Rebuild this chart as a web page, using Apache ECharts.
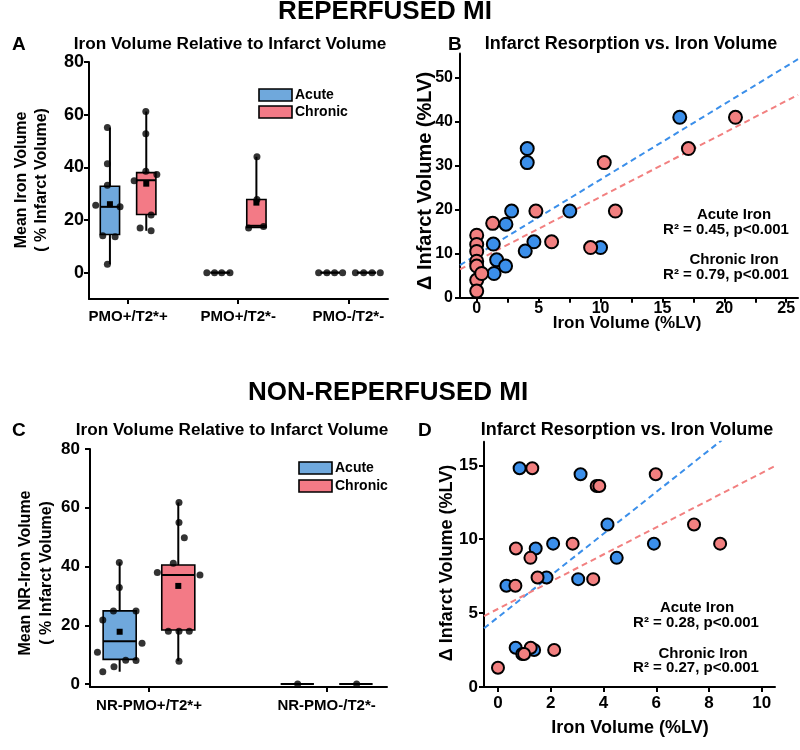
<!DOCTYPE html>
<html>
<head>
<meta charset="utf-8">
<script src="https://cdn.jsdelivr.net/npm/echarts@6/dist/echarts.min.js"></script>
<style>html,body{margin:0;padding:0;background:#fff}#c{width:800px;height:750px}</style>
</head>
<body>
<div id="c"></div>
<script>
// ---------- DATA ----------
const catsA = ['PMO+/T2*+', 'PMO+/T2*-', 'PMO-/T2*-'];
const catsC = ['NR-PMO+/T2*+', 'NR-PMO-/T2*-'];
// box stats: [min, q1, median, q3, max, mean]
const boxAcuteA   = [[3.2, 14.5, 25, 32.8, 55.1, 26], [0, 0, 0, 0, 0, null], [0, 0, 0, 0, 0, null]];
const boxChronicA = [[15.9, 22.1, 35.1, 38, 61.2, 33.8], [17, 17.2, 17.8, 27.8, 44, 26.6], [0, 0, 0, 0, 0, null]];
const boxAcuteC   = [[4.2, 8.4, 14.6, 24.9, 41.4, 17.8], [0, 0, 0, 0, 0, null]];
const boxChronicC = [[7.8, 18.4, 37.1, 40.5, 61.8, 33.4], [0, 0, 0, 0, 0, null]];
// individual dots: [x on category scale, value]
const dotsA = [
  [0.812, 55.1], [0.812, 41.4], [0.812, 33.2], [0.706, 25.6], [0.927, 25.0], [0.77, 14.0], [0.882, 13.6], [0.812, 3.2],
  [1.161, 61.2], [1.161, 52.8], [1.161, 38.5], [1.055, 34.9], [1.261, 37.3], [1.109, 17.0], [1.209, 21.9], [1.209, 15.9],
  [1.715, 0], [1.785, 0], [1.85, 0], [1.925, 0],
  [2.17, 44], [2.17, 27.8], [2.094, 17], [2.23, 17.5],
  [2.73, 0], [2.805, 0], [2.875, 0], [2.948, 0],
  [3.064, 0], [3.139, 0], [3.215, 0], [3.29, 0]
];
const dotsC = [
  [0.833, 41.4], [0.833, 32.9], [0.8, 24.9], [0.927, 24.9], [0.74, 21.8], [0.961, 13.9], [0.71, 10.8], [0.869, 8.1], [0.927, 8.0], [0.803, 5.9], [0.74, 4.2],
  [1.169, 61.8], [1.169, 55], [1.199, 49.8], [1.137, 41.1], [1.047, 38], [1.287, 37.1], [1.109, 18], [1.169, 18], [1.227, 18], [1.169, 7.8],
  [1.837, 0], [2.169, 0]
];
const acuteB = [[16.4, 41], [4.08, 33.9], [4.08, 30.7], [2.82, 19.7], [7.52, 19.7], [2.36, 16.7], [1.34, 12.2], [4.62, 12.7], [3.92, 10.6], [10, 11.4], [1.61, 8.6], [2.33, 7.2], [1.4, 5.5]];
const chronicB = [[20.9, 41], [17.1, 33.9], [10.3, 30.7], [4.78, 19.7], [11.2, 19.7], [1.29, 16.9], [6.05, 12.7], [9.2, 11.4], [0, 14.2], [0, 12.1], [0, 10.5], [0, 8.3], [0, 7.2], [0, 4], [0, 1.5], [0.4, 5.5]];
const fitAcuteB = [[-1.35, 7.4], [25.95, 54.2]];
const fitChronicB = [[-1.35, 6.45], [25.95, 46.1]];
const acuteD = [[0.82, 14.8], [3.13, 14.4], [4.15, 11.0], [2.09, 9.7], [1.43, 9.37], [5.91, 9.7], [4.5, 8.74], [1.84, 7.41], [3.04, 7.3], [0.32, 6.85], [0.67, 2.66], [0.92, 2.23], [1.37, 2.5]];
const chronicD = [[1.3, 14.8], [5.98, 14.4], [3.74, 13.6], [3.84, 13.6], [7.43, 11.0], [8.42, 9.7], [2.83, 9.7], [0.68, 9.37], [1.23, 8.74], [1.5, 7.41], [3.61, 7.3], [0.66, 6.85], [1.24, 2.66], [0.99, 2.23], [2.13, 2.5], [0, 1.3]];
const fitAcuteD = [[-0.53, 3.97], [8.48, 16.7]];
const fitChronicD = [[-0.53, 4.8], [10.5, 14.95]];
const yTicksA = [0, 20, 40, 60, 80];
const yTicksB = [0, 10, 20, 30, 40, 50];
const xTicksB = [0, 5, 10, 15, 20, 25];
const xMinorB = [0, 2.5, 5, 7.5, 10, 12.5, 15, 17.5, 20, 22.5, 25];
const yTicksD = [0, 5, 10, 15];
const xTicksD = [0, 2, 4, 6, 8, 10];

// ---------- STYLE ----------
const FONT = '"Liberation Sans", Arial, sans-serif';
const C_BOX_A = '#6fa8dc', C_BOX_C = '#f37a86';
const C_PT_A = '#3b8fea', C_PT_C = '#f28080';
const OFF = 0.165;

function boxData(stats, offset) {
  return stats.map((s, i) => [i + 1 + offset].concat(s));
}
function boxSeries(stats, offset, color, gi, bw) {
  return {
    type: 'custom', xAxisIndex: gi, yAxisIndex: gi, z: 2,
    data: boxData(stats, offset),
    encode: { x: 0, y: [1, 2, 3, 4, 5] },
    renderItem: function (params, api) {
      const x = api.value(0);
      const p = (v) => api.coord([x, v]);
      const xc = p(api.value(3))[0];
      const yMin = p(api.value(1))[1], yQ1 = p(api.value(2))[1], yMed = p(api.value(3))[1];
      const yQ3 = p(api.value(4))[1], yMax = p(api.value(5))[1];
      const w = api.size([bw, 0])[0];
      const ls = { stroke: '#000', lineWidth: 2 };
      const ch = [
        { type: 'line', shape: { x1: xc, y1: yQ3, x2: xc, y2: yMax }, style: ls },
        { type: 'line', shape: { x1: xc, y1: yQ1, x2: xc, y2: yMin }, style: ls },
        { type: 'rect', shape: { x: xc - w / 2, y: yQ3, width: w, height: yQ1 - yQ3 }, style: { fill: color, stroke: '#000', lineWidth: 1.6 } },
        { type: 'line', shape: { x1: xc - w / 2, y1: yMed, x2: xc + w / 2, y2: yMed }, style: ls }
      ];
      const m = api.value(6);
      if (!isNaN(m) && m !== null) {
        const ym = p(m)[1];
        ch.push({ type: 'rect', shape: { x: xc - 3, y: ym - 3, width: 6, height: 6 }, style: { fill: '#000' } });
      }
      return { type: 'group', children: ch };
    }
  };
}
function dotSeries(d, gi) {
  return { type: 'scatter', xAxisIndex: gi, yAxisIndex: gi, z: 3, data: d, symbol: 'circle', symbolSize: 7, itemStyle: { color: '#000' } };
}
function ptSeries(d, color, gi, size) {
  return { type: 'scatter', xAxisIndex: gi, yAxisIndex: gi, z: 4, data: d, symbol: 'circle', symbolSize: size,
    itemStyle: { color: color, borderColor: '#000', borderWidth: 2, opacity: 1 } };
}
function fitSeries(d, color, gi) {
  return { type: 'line', xAxisIndex: gi, yAxisIndex: gi, z: 3, data: d, symbol: 'none',
    lineStyle: { color: color, width: 2, type: [6, 4] } };
}
const axLine = { show: true, onZero: false, lineStyle: { color: '#000', width: 2 } };
function xAx(gi, min, max, ticks, tickVals, fmt, fs, margin) {
  return { gridIndex: gi, type: 'value', min: min, max: max,
    axisLine: axLine,
    axisTick: { show: true, customValues: tickVals, length: 5, lineStyle: { color: '#000', width: 2 } },
    axisLabel: { customValues: ticks, formatter: fmt, color: '#000', fontFamily: FONT, fontWeight: 'bold', fontSize: fs, margin: margin },
    splitLine: { show: false } };
}
function yAx(gi, min, max, ticks, fs, margin) {
  return { gridIndex: gi, type: 'value', min: min, max: max,
    axisLine: axLine,
    axisTick: { show: true, customValues: ticks, length: 5, lineStyle: { color: '#000', width: 2 } },
    axisLabel: { customValues: ticks, color: '#000', fontFamily: FONT, fontWeight: 'bold', fontSize: fs, margin: margin },
    splitLine: { show: false } };
}
function txt(x, y, s, size, align, rot) {
  return { type: 'text', x: x, y: y, rotation: rot || 0,
    style: { text: s, font: 'bold ' + size + 'px ' + FONT, fill: '#000', align: align || 'center', verticalAlign: 'middle' } };
}
function legendBox(x, y, color) {
  return { type: 'rect', shape: { x: x, y: y, width: 33, height: 12 }, style: { fill: color, stroke: '#000', lineWidth: 1.6 } };
}

const chart = echarts.init(document.getElementById('c'), null, { renderer: 'canvas' });
chart.setOption({
  animation: false,
  backgroundColor: '#fff',
  grid: [
    { left: 89, top: 62, width: 299, height: 237 },
    { left: 460, top: 53.5, width: 338, height: 244.2 },
    { left: 90, top: 449, width: 297, height: 238 },
    { left: 484, top: 441.7, width: 291, height: 245.3 }
  ],
  xAxis: [
    xAx(0, 0.645, 3.36, [1, 2, 3], [1, 2, 3], v => catsA[Math.round(v) - 1], 15, 10),
    xAx(1, -1.35, 25.95, xTicksB, xMinorB, v => String(v), 16, 3),
    xAx(2, 0.668, 2.34, [1, 2], [1, 2], v => catsC[Math.round(v) - 1], 15, 11),
    xAx(3, -0.53, 10.5, xTicksD, xTicksD, v => String(v), 17, 8)
  ],
  yAxis: [
    yAx(0, -10, 80, yTicksA, 18, 5),
    yAx(1, 0, 55.5, yTicksB, 16, 7),
    yAx(2, -1, 80, yTicksA, 17, 10),
    yAx(3, 0, 16.6, yTicksD, 17, 6)
  ],
  series: [
    boxSeries(boxAcuteA, -OFF, C_BOX_A, 0, 0.175),
    boxSeries(boxChronicA, OFF, C_BOX_C, 0, 0.175),
    dotSeries(dotsA, 0),
    fitSeries(fitAcuteB, C_PT_A, 1),
    fitSeries(fitChronicB, C_PT_C, 1),
    ptSeries(acuteB, C_PT_A, 1, 13),
    ptSeries(chronicB, C_PT_C, 1, 13),
    boxSeries(boxAcuteC, -OFF, C_BOX_A, 2, 0.186),
    boxSeries(boxChronicC, OFF, C_BOX_C, 2, 0.186),
    dotSeries(dotsC, 2),
    fitSeries(fitAcuteD, C_PT_A, 3),
    fitSeries(fitChronicD, C_PT_C, 3),
    ptSeries(acuteD, C_PT_A, 3, 12),
    ptSeries(chronicD, C_PT_C, 3, 12)
  ],
  graphic: [
    txt(385, 12, 'REPERFUSED MI', 26),
    txt(388, 393, 'NON-REPERFUSED MI', 26),
    txt(12, 45, 'A', 19, 'left'),
    txt(448, 45, 'B', 19, 'left'),
    txt(12, 431, 'C', 19, 'left'),
    txt(418, 431, 'D', 19, 'left'),
    txt(230, 44, 'Iron Volume Relative to Infarct Volume', 17.2),
    txt(631, 44, 'Infarct Resorption vs. Iron Volume', 18),
    txt(232, 430, 'Iron Volume Relative to Infarct Volume', 17.2),
    txt(627, 430, 'Infarct Resorption vs. Iron Volume', 18),
    txt(22, 180, 'Mean Iron Volume', 16, 'center', Math.PI / 2),
    txt(42, 180, '( % Infarct Volume)', 16, 'center', Math.PI / 2),
    txt(425, 181, 'Δ Infarct Volume (%LV)', 20, 'center', Math.PI / 2),
    txt(627, 323, 'Iron Volume (%LV)', 17),
    txt(26, 573, 'Mean NR-Iron Volume', 16, 'center', Math.PI / 2),
    txt(47, 573, '( % Infarct Volume)', 16, 'center', Math.PI / 2),
    txt(447, 563, 'Δ Infarct Volume (%LV)', 18, 'center', Math.PI / 2),
    txt(630, 728, 'Iron Volume (%LV)', 18),
    legendBox(259, 89, C_BOX_A), legendBox(259, 106, C_BOX_C),
    txt(295, 95, 'Acute', 14, 'left'), txt(295, 112, 'Chronic', 14, 'left'),
    legendBox(299, 462, C_BOX_A), legendBox(299, 480, C_BOX_C),
    txt(335, 468, 'Acute', 14, 'left'), txt(335, 486, 'Chronic', 14, 'left'),
    txt(734, 215, 'Acute Iron', 15), txt(726, 230, 'R² = 0.45, p<0.001', 15),
    txt(734, 260, 'Chronic Iron', 15), txt(726, 275, 'R² = 0.79, p<0.001', 15),
    txt(697, 608, 'Acute Iron', 15), txt(696, 623, 'R² = 0.28, p<0.001', 15),
    txt(703, 654, 'Chronic Iron', 15), txt(696, 668, 'R² = 0.27, p<0.001', 15)
  ]
});
</script>
</body>
</html>
